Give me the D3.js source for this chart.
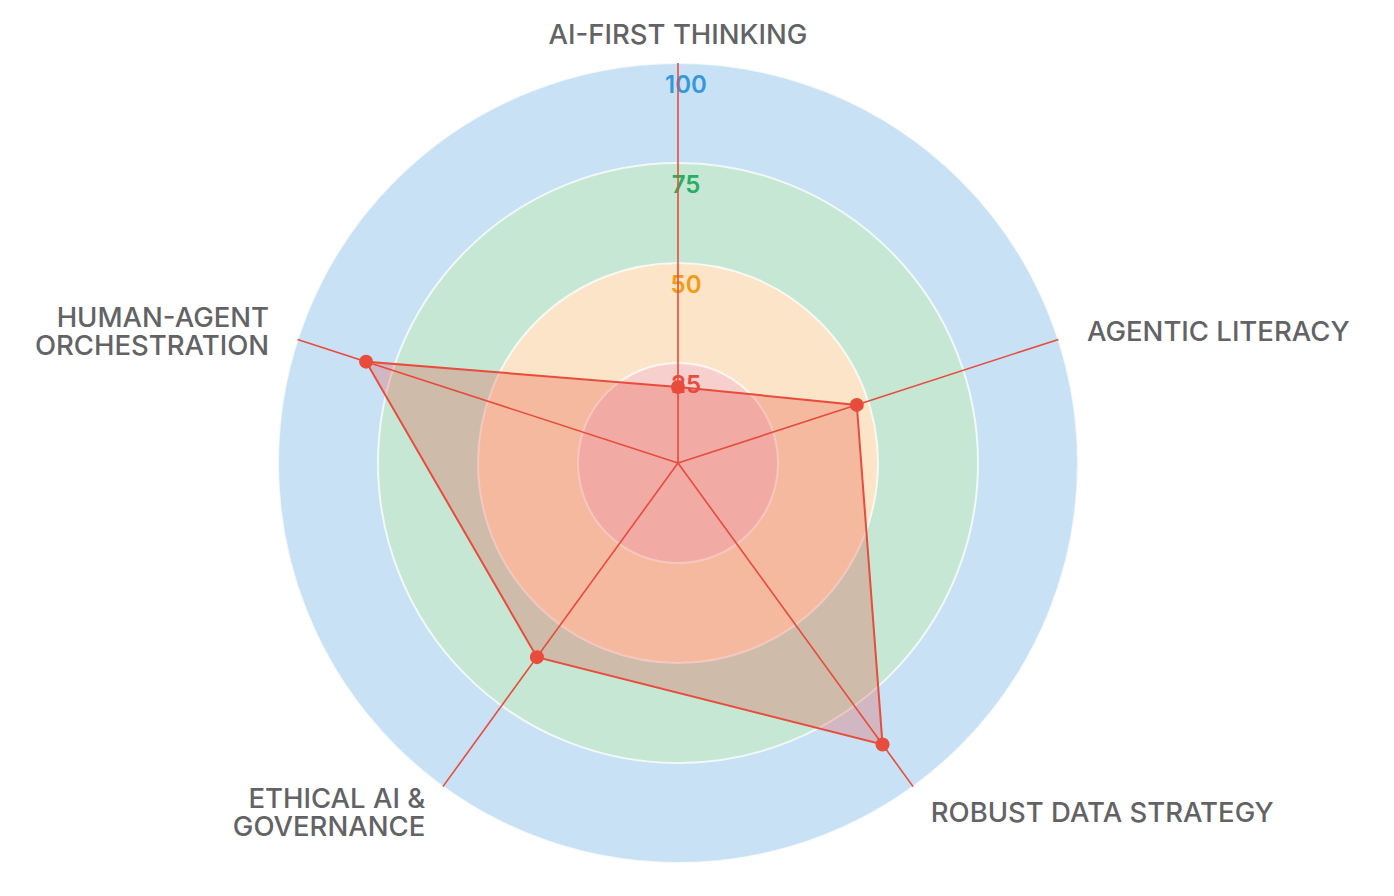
<!DOCTYPE html>
<html>
<head>
<meta charset="utf-8">
<script src="https://cdn.jsdelivr.net/npm/d3@7"></script>
<style>
  html, body { margin: 0; padding: 0; background: #fff; }
  svg { display: block; }
</style>
</head>
<body>
<div id="radar"></div>
<script>
var dimensions = ["AI-FIRST THINKING", "AGENTIC LITERACY", "ROBUST DATA STRATEGY", "ETHICAL AI & GOVERNANCE", "HUMAN-AGENT ORCHESTRATION"];
var dimensionLines = [["AI-FIRST THINKING"], ["AGENTIC LITERACY"], ["ROBUST DATA STRATEGY"], ["ETHICAL AI &", "GOVERNANCE"], ["HUMAN-AGENT", "ORCHESTRATION"]];
var scores = [19, 47, 87, 60, 82];
var levels = [100, 75, 50, 25];
var levelFills = ["#c9e1f4", "#c6e7d4", "#fbe4c7", "#f7cfcd"];
var levelText = ["#3498db", "#27ae60", "#f39c12", "#e74c3c"];

(function () {
    var width = 1394, height = 896;
    var cx = 678, cy = 463;

    var r = d3.scaleLinear().domain([0, 100]).range([0, 400]);
    var angle = d3.scalePoint().domain(dimensions).range([0, 2 * Math.PI * (dimensions.length - 1) / dimensions.length]);

    function pt(dim, v) {
        var a = angle(dim);
        return [cx + r(v) * Math.sin(a), cy - r(v) * Math.cos(a)];
    }

    var svg = d3.select("#radar")
        .append("svg")
        .attr("width", width)
        .attr("height", height);

    // level rings, biggest first
    svg.append("g")
        .selectAll("circle")
        .data(levels)
        .join("circle")
        .attr("cx", cx)
        .attr("cy", cy)
        .attr("r", d => r(d))
        .attr("fill", (d, i) => levelFills[i])
        .attr("stroke", "rgba(255,255,255,0.75)")
        .attr("stroke-width", 2);

    // tick labels
    svg.append("g")
        .selectAll("text")
        .data(levels)
        .join("text")
        .attr("x", cx + 8)
        .attr("y", d => cy - r(d) + 21)
        .attr("dy", "0.36em")
        .attr("text-anchor", "middle")
        .attr("font-family", "Inter, Liberation Sans, sans-serif")
        .attr("font-weight", 600)
        .attr("font-size", 24)
        .attr("fill", (d, i) => levelText[i])
        .text(d => d);

    // spokes
    svg.append("g")
        .attr("stroke", "#e74c3c")
        .attr("stroke-width", 1.6)
        .selectAll("line")
        .data(dimensions)
        .join("line")
        .attr("x1", cx)
        .attr("y1", cy)
        .attr("x2", d => pt(d, 100)[0])
        .attr("y2", d => pt(d, 100)[1]);

    // score polygon
    var poly = dimensions.map((d, i) => pt(d, scores[i]));
    svg.append("path")
        .datum(poly)
        .attr("d", d3.line().curve(d3.curveLinearClosed))
        .attr("fill", "#e74c3c")
        .attr("fill-opacity", 0.28)
        .attr("stroke", "#e74c3c")
        .attr("stroke-width", 2);

    svg.append("g")
        .selectAll("circle")
        .data(poly)
        .join("circle")
        .attr("cx", d => d[0])
        .attr("cy", d => d[1])
        .attr("r", 7)
        .attr("fill", "#e74c3c");

    // axis labels
    var lineH = 28;
    var lab = svg.append("g")
        .attr("font-family", "Inter, Liberation Sans, sans-serif")
        .attr("font-weight", 500)
        .attr("font-size", 27.5)
        .attr("fill", "#636366")
        .selectAll("text")
        .data(dimensions)
        .join("text")
        .attr("text-anchor", d => {
            var x = pt(d, 107.5)[0] - cx;
            return Math.abs(x) < 1 ? "middle" : (x > 0 ? "start" : "end");
        });

    lab.each(function (d, i) {
        var p = pt(d, 107.5);
        var lines = dimensionLines[i];
        var y0 = p[1] + 1 - (lines.length - 1) * lineH / 2;
        d3.select(this).selectAll("tspan")
            .data(lines)
            .join("tspan")
            .attr("x", p[0])
            .attr("y", (l, j) => y0 + j * lineH)
            .attr("dy", "0.36em")
            .text(l => l);
    });
})();
</script>
</body>
</html>
